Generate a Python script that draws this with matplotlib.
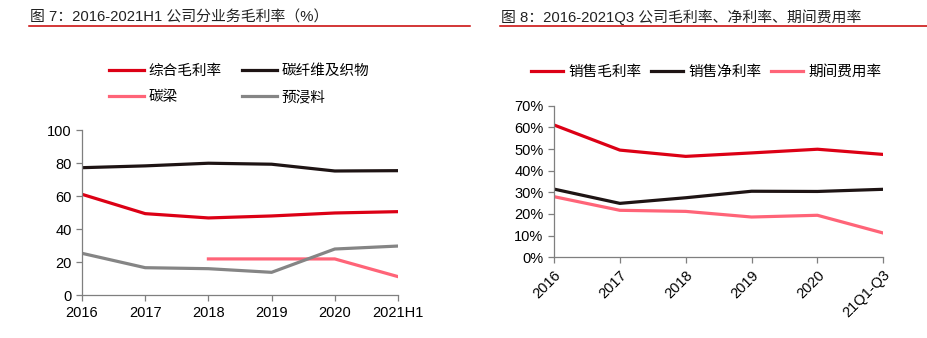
import matplotlib
matplotlib.use("Agg")
import matplotlib.pyplot as plt
from matplotlib.lines import Line2D

plt.rcParams['font.family'] = ['Liberation Sans', 'Noto Sans CJK SC']

# left chart: 分业务毛利率 (%)
years_l = ['2016', '2017', '2018', '2019', '2020', '2021H1']
zonghe = [61.1, 49.4, 46.8, 48.0, 49.8, 50.6]
tanxianwei = [77.2, 78.3, 79.9, 79.3, 75.2, 75.4]
tanliang = [None, None, 22.0, 22.0, 22.0, 11.3]
yujinliao = [25.4, 16.7, 16.1, 13.9, 28.0, 29.8]

# right chart: 毛利率 / 净利率 / 期间费用率 (%)
years_r = ['2016', '2017', '2018', '2019', '2020', '21Q1-Q3']
gross = [61.1, 49.5, 46.6, 48.2, 49.9, 47.5]
net = [31.5, 24.9, 27.5, 30.5, 30.4, 31.4]
expense = [28.0, 21.7, 21.2, 18.6, 19.4, 11.2]

RED = '#dc0015'
BLACK = '#1e1414'
PINK = '#ff6478'
GRAY = '#858585'
LW = 2.3
FS = 10.5


def style_axes(ax):
    for s in ['top', 'right']:
        ax.spines[s].set_visible(False)
    for s in ['left', 'bottom']:
        ax.spines[s].set_color('#7f7f7f')
        ax.spines[s].set_linewidth(0.9)
    ax.tick_params(axis='both', colors='#7f7f7f', labelcolor='black',
                   labelsize=FS, length=4, width=0.9, direction='out')


fig = plt.figure(figsize=(9.28, 3.38), dpi=100)

# titles and red rules
fig.text(30 / 928, 1 - 17.5 / 338, '图 7：2016-2021H1 公司分业务毛利率（%）',
         fontsize=10.7, color='#222222', va='center', ha='left')
fig.text(501 / 928, 1 - 17.5 / 338, '图 8：2016-2021Q3 公司毛利率、净利率、期间费用率',
         fontsize=10.7, color='#222222', va='center', ha='left')
fig.add_artist(Line2D([29 / 928, 470 / 928], [1 - 25.5 / 338] * 2,
                      color='#c80000', lw=1.1))
fig.add_artist(Line2D([500 / 928, 1.0], [1 - 25.5 / 338] * 2,
                      color='#c80000', lw=1.1))

# left chart
ax1 = fig.add_axes([82 / 928, 42.7 / 338, 316 / 928, 165.3 / 338])
x = range(len(years_l))
ax1.plot(x, zonghe, color=RED, lw=LW, label='综合毛利率')
ax1.plot(x, tanliang, color=PINK, lw=LW, label='碳梁')
ax1.plot(x, tanxianwei, color=BLACK, lw=LW, label='碳纤维及织物')
ax1.plot(x, yujinliao, color=GRAY, lw=LW, label='预浸料')
ax1.set_xlim(0, len(years_l) - 1)
ax1.set_ylim(0, 100)
ax1.set_yticks(range(0, 101, 20))
ax1.set_xticks(list(x))
ax1.set_xticklabels(years_l)
style_axes(ax1)
fig.legend(*ax1.get_legend_handles_labels(), ncol=2, frameon=False,
           loc='upper left', bbox_to_anchor=(109 / 928, 1 - 64 / 338),
           fontsize=FS, handlelength=2.4, handletextpad=0.3,
           columnspacing=1.4, labelspacing=0.85, borderpad=0,
           borderaxespad=0)

# right chart
ax2 = fig.add_axes([554 / 928, 80.7 / 338, 329.3 / 928, 151.6 / 338])
x = range(len(years_r))
ax2.plot(x, gross, color=RED, lw=LW, label='销售毛利率')
ax2.plot(x, net, color=BLACK, lw=LW, label='销售净利率')
ax2.plot(x, expense, color=PINK, lw=LW, label='期间费用率')
ax2.set_xlim(0, len(years_r) - 1)
ax2.set_ylim(0, 70)
ax2.set_yticks(range(0, 71, 10))
ax2.set_yticklabels([f'{v}%' for v in range(0, 71, 10)])
ax2.set_xticks(list(x))
ax2.set_xticklabels(years_r, rotation=45, ha='right', rotation_mode='anchor')
style_axes(ax2)
fig.legend(*ax2.get_legend_handles_labels(), ncol=3, frameon=False,
           loc='upper left', bbox_to_anchor=(531 / 928, 1 - 65 / 338),
           fontsize=FS, handlelength=2.2, handletextpad=0.4,
           columnspacing=0.6, borderpad=0, borderaxespad=0)

fig.savefig('out.png', dpi=100)
